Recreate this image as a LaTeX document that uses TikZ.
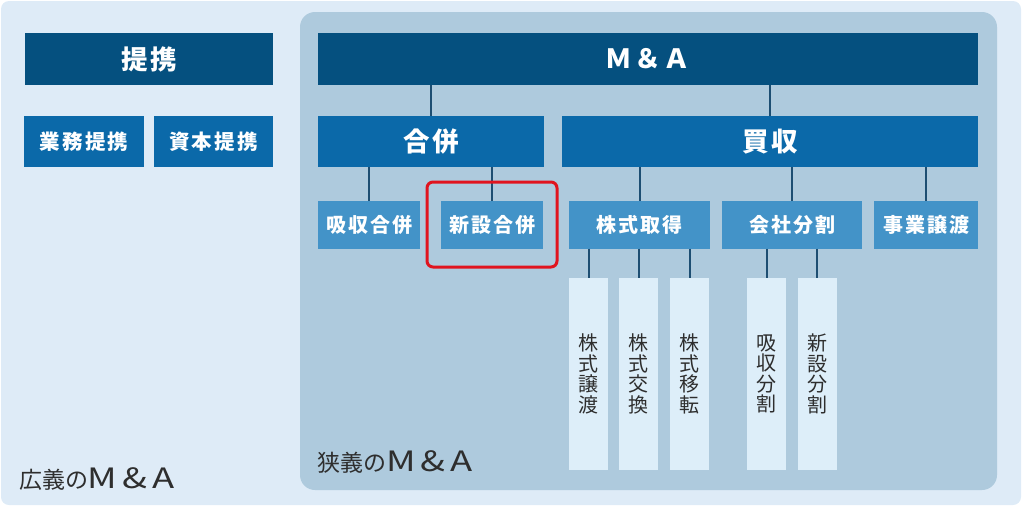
\documentclass[tikz,border=0pt]{standalone}
\usepackage{fontspec}
\newfontfamily\jp{Noto Sans CJK JP}
\newfontfamily\jpsp[LetterSpace=10]{Noto Sans CJK JP}
\newcommand{\wideltr}[1]{\scalebox{1.3}[1]{#1}}
\newcommand{\mandA}{{\fontsize{28}{30}\selectfont\wideltr{M}\hspace{5pt}\wideltr{\&}\hspace{5pt}\wideltr{A}}}
\usetikzlibrary{fit}
\definecolor{bgout}{HTML}{DEEBF7}
\definecolor{bgin}{HTML}{AECADD}
\definecolor{navy}{HTML}{05507F}
\definecolor{midblue}{HTML}{0B69A9}
\definecolor{lightblue}{HTML}{4393C8}
\definecolor{paleblue}{HTML}{DDEEF9}
\definecolor{linkcol}{HTML}{1D4E72}
\definecolor{txtdark}{HTML}{2E2E2E}
\definecolor{framered}{HTML}{E0141E}

\begin{document}
\begin{tikzpicture}[x=1pt, y=-1pt,
  every node/.style={font=\jp, inner sep=0pt, outer sep=0pt},
  topbox/.style={fill=navy, text=white, minimum height=52pt, font=\jpsp\bfseries\fontsize{26.5}{30}\selectfont},
  midbox/.style={fill=midblue, text=white, minimum height=51pt, font=\jpsp\bfseries\fontsize{26.5}{30}\selectfont},
  teikeibox/.style={fill=midblue, text=white, minimum height=51pt, font=\jpsp\bfseries\fontsize{20.5}{24}\selectfont},
  subbox/.style={fill=lightblue, text=white, minimum height=48pt, font=\jpsp\bfseries\fontsize{20}{24}\selectfont},
  vbox/.style={fill=paleblue, text=txtdark, minimum width=39pt, minimum height=192pt, align=center, font=\jp\fontsize{20}{20.5}\selectfont},
  link/.style={draw=linkcol, line width=2pt},
  redframe/.style={draw=framered, line width=3pt, rounded corners=6pt},
  areatext/.style={text=txtdark, anchor=west, font=\jp\fontsize{23}{30}\selectfont}]
\useasboundingbox (0,0) rectangle (1024,507);
\fill[bgout, rounded corners=8pt] (1,1) rectangle (1021,505);
\fill[bgin, rounded corners=15pt] (300,12) rectangle (997,490);

% left side
\node[topbox, minimum width=248pt] (teikei) at (149,59) {提携};
\node[teikeibox, minimum width=120pt] (gyomu) at (84,141.5) {業務提携};
\node[teikeibox, minimum width=119pt] (shihon) at (213.5,141.5) {資本提携};

% right side
\node[topbox, minimum width=660pt] (ma) at (648,59) {Ｍ＆Ａ};
\node[midbox, minimum width=226pt] (gappei) at (431,141.5) {合併};
\node[midbox, minimum width=416pt] (baishu) at (770,141.5) {買収};

\node[subbox, minimum width=102pt] (kyushu) at (369,224.5) {吸収合併};
\node[subbox, minimum width=102pt] (shinsetsu) at (492,224.5) {新設合併};
\node[subbox, minimum width=141pt] (kabu) at (639.5,224.5) {株式取得};
\node[subbox, minimum width=140pt] (kaisha) at (792,224.5) {会社分割};
\node[subbox, minimum width=104pt] (jigyo) at (926,224.5) {事業譲渡};

\node[vbox] (joto) at (588.5,374) {株\\式\\譲\\渡};
\node[vbox] (kokan) at (638.5,374) {株\\式\\交\\換};
\node[vbox] (iten) at (689.5,374) {株\\式\\移\\転};
\node[vbox] (kbunkatsu) at (766.5,374) {吸\\収\\分\\割};
\node[vbox] (sbunkatsu) at (817,374) {新\\設\\分\\割};

\draw[link] (ma.south -| gappei.north) -- (gappei.north);
\draw[link] (ma.south -| baishu.north) -- (baishu.north);
\draw[link] (gappei.south -| kyushu.north) -- (kyushu.north);
\draw[link] (gappei.south -| shinsetsu.north) -- (shinsetsu.north);
\draw[link] (baishu.south -| kabu.north) -- (kabu.north);
\draw[link] (baishu.south -| kaisha.north) -- (kaisha.north);
\draw[link] (baishu.south -| jigyo.north) -- (jigyo.north);
\draw[link] (kabu.south -| joto.north) -- (joto.north);
\draw[link] (kabu.south -| kokan.north) -- (kokan.north);
\draw[link] (kabu.south -| iten.north) -- (iten.north);
\draw[link] (kaisha.south -| kbunkatsu.north) -- (kbunkatsu.north);
\draw[link] (kaisha.south -| sbunkatsu.north) -- (sbunkatsu.north);

\node[redframe, fit=(shinsetsu), inner xsep=14pt, inner ysep=18.5pt] (focus) {};

\node[areatext] (wide) at (19,479) {広義の\mandA};
\node[areatext] (narrow) at (317,462) {狭義の\mandA};
\end{tikzpicture}
\end{document}
